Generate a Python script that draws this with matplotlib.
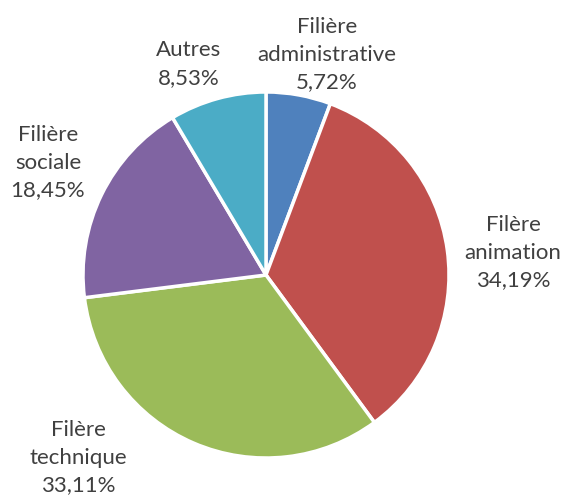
import matplotlib
matplotlib.use("Agg")
import matplotlib.pyplot as plt

categories = ["Filière\nadministrative", "Filère\nanimation", "Filère\ntechnique", "Filière\nsociale", "Autres"]
values = [5.72, 34.19, 33.11, 18.45, 8.53]
pct_labels = ["5,72%", "34,19%", "33,11%", "18,45%", "8,53%"]
colors = ["#4F81BD", "#C0504D", "#9BBB59", "#8064A2", "#4BACC6"]

W, H = 566, 496
cx, cy, R = 266, 275, 183

fig = plt.figure(figsize=(W / 100, H / 100), dpi=100)
ax = fig.add_axes([0, 0, 1, 1])
ax.pie(values, colors=colors, startangle=90, counterclock=False,
       radius=1.0, wedgeprops=dict(edgecolor="white", linewidth=2.5))
ax.set_xlim(-cx / R, (W - cx) / R)
ax.set_ylim((cy - H) / R, cy / R)
ax.set_aspect("auto")
ax.axis("off")

# label centre positions (pixels)
label_px = [(327, 55), (513, 253), (78, 458), (48, 163), (189, 64)]
for cat, pct, (px, py) in zip(categories, pct_labels, label_px):
    text = cat + "\n" + pct
    ax.text((px - cx) / R, (cy - py) / R, text, ha="center", va="center",
            fontsize=16, family=["Lato", "DejaVu Sans"], color="#404040",
            linespacing=1.47)

fig.savefig("out.png", dpi=100, facecolor="white")
